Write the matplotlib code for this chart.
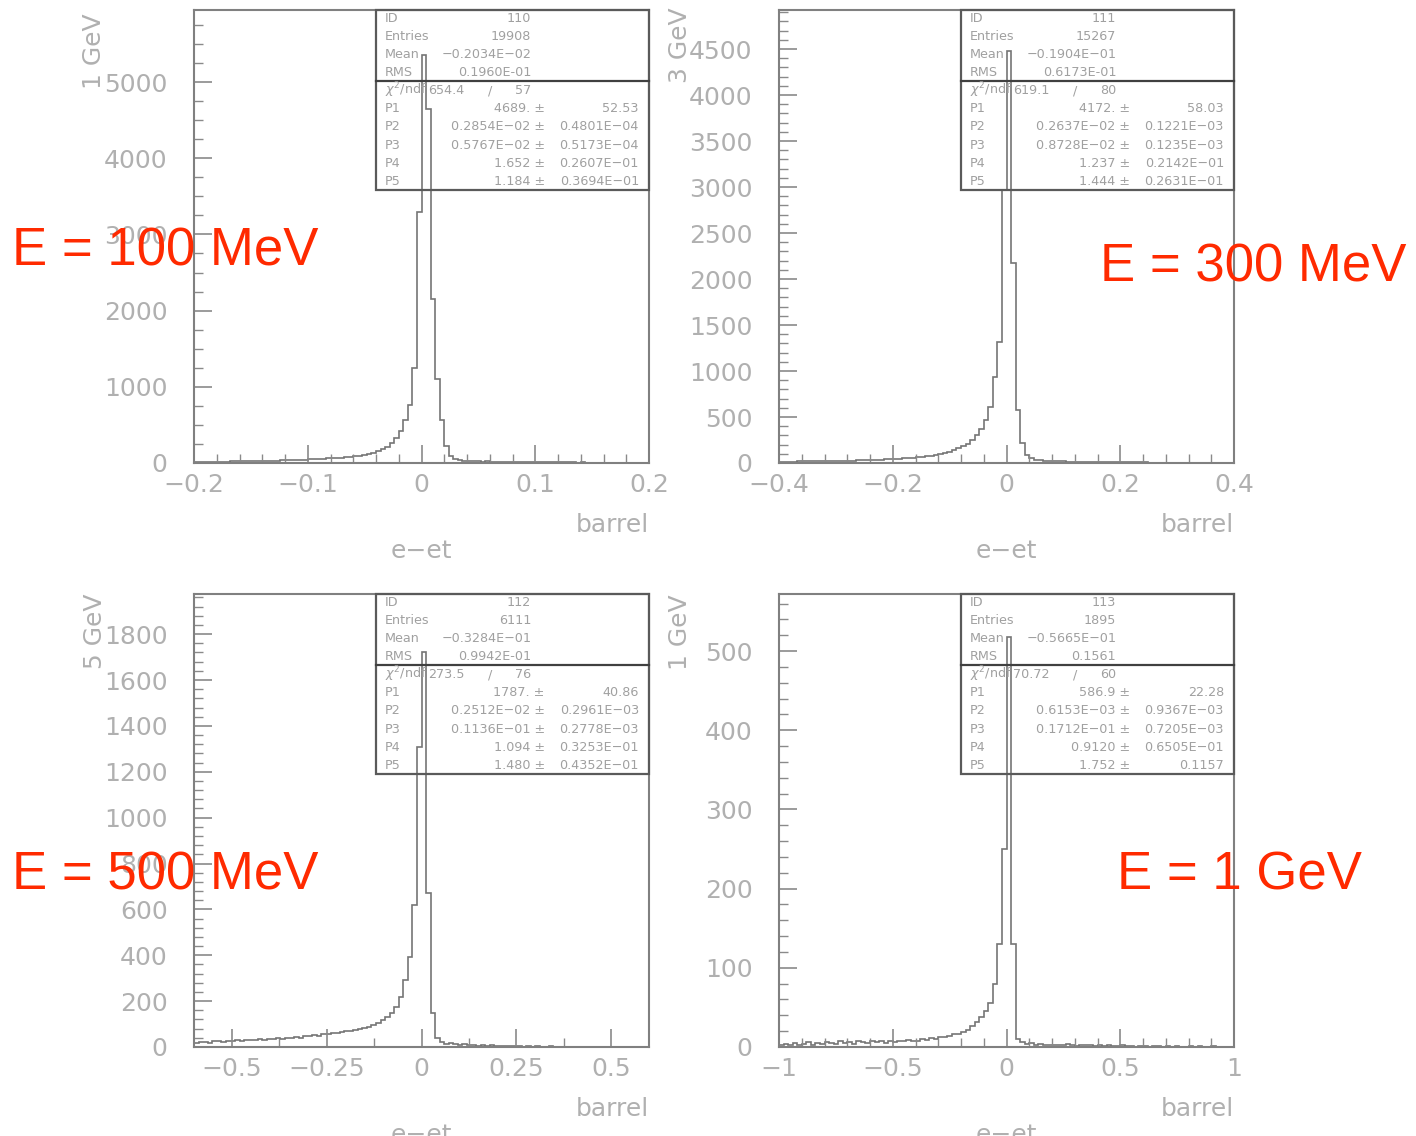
import numpy as np
import matplotlib
matplotlib.use("Agg")
import matplotlib.pyplot as plt
from matplotlib.patches import Rectangle
from matplotlib.ticker import AutoMinorLocator

# bin contents (100 bins per histogram)
h110 = [12, 14, 15, 13, 16, 18, 17, 19, 20, 22, 21, 23, 25, 24, 27, 28, 30, 29, 32, 34, 35, 37, 40, 42, 45,
        48, 50, 53, 56, 60, 63, 67, 72, 77, 83, 90, 98, 108,
        120, 135, 155, 180, 215, 260, 330, 420, 560, 760, 1250, 3300, 5350, 4650, 2150, 1100, 560, 220, 90, 50, 35, 30,
        25, 22, 20, 18, 20, 17, 15, 16, 14, 15, 13, 12, 14, 11, 12, 10, 11, 9, 10, 8,
        9, 8, 7, 8, 6, 7, 6, 5, 6, 5, 4, 5, 4, 4, 3, 4, 3, 3, 2, 3]
h111 = [14, 15, 16, 15, 17, 18, 19, 18, 20, 21, 22, 23, 22, 24, 25, 27, 26, 28, 30, 31, 33, 35, 37, 39, 42,
        45, 48, 51, 55, 58, 62, 67, 72, 78, 85, 95, 108, 124,
        140, 158, 180, 210, 250, 300, 370, 467, 609, 935, 1315, 2970, 4480, 2170, 576, 217, 90, 50, 35, 28, 24, 22,
        20, 18, 17, 16, 15, 14, 13, 13, 12, 11, 10, 10, 9, 9, 8, 8, 7, 7, 6, 6,
        6, 5, 5, 5, 4, 4, 4, 4, 3, 3, 3, 3, 3, 2, 2, 2, 2, 2, 2, 1]
h112 = [18, 20, 22, 19, 24, 26, 23, 28, 25, 30, 27, 32, 29, 31, 34, 30, 35, 33, 38, 36, 40, 38, 43, 41, 46,
        48, 52, 50, 56, 58, 62, 60, 66, 70, 68, 74, 78, 83,
        88, 96, 106, 118, 132, 150, 174, 218, 292, 392, 619, 1307, 1720, 671, 148, 40, 22, 15, 18, 12, 10, 14,
        8, 10, 6, 9, 5, 7, 4, 6, 3, 5, 4, 3, 2, 4, 2, 3, 1, 2, 3, 1,
        2, 1, 2, 1, 1, 2, 1, 0, 1, 1, 0, 1, 0, 1, 0, 0, 1, 0, 0, 0]
h113 = [3, 4, 2, 5, 3, 4, 6, 3, 5, 4, 6, 5, 4, 7, 5, 6, 4, 7, 6, 5, 8, 6, 7, 5, 8,
        6, 8, 7, 9, 7, 8, 10, 9, 11, 10, 12, 13, 14,
        16, 17, 19, 22, 27, 32, 38, 45, 55, 80, 130, 250, 518, 130, 10, 6, 4, 5, 3, 4, 2, 3,
        2, 3, 2, 4, 2, 1, 3, 2, 2, 1, 2, 1, 2, 1, 1, 2, 1, 1, 0, 1,
        1, 0, 1, 1, 0, 1, 0, 1, 0, 0, 1, 0, 1, 0, 0, 1, 0, 0, 0, 0]

x_ranges = [(-0.2, 0.2), (-0.4, 0.4), (-0.6, 0.6), (-1.0, 1.0)]
y_tops = [5945, 4924, 1975, 572]
xticks = [[-0.2, -0.1, 0, 0.1, 0.2], [-0.4, -0.2, 0, 0.2, 0.4],
          [-0.5, -0.25, 0, 0.25, 0.5], [-1, -0.5, 0, 0.5, 1]]
xticklabels = [["\u22120.2", "\u22120.1", "0", "0.1", "0.2"],
               ["\u22120.4", "\u22120.2", "0", "0.2", "0.4"],
               ["\u22120.5", "\u22120.25", "0", "0.25", "0.5"],
               ["\u22121", "\u22120.5", "0", "0.5", "1"]]
ysteps = [1000, 500, 200, 100]
yminor = [4, 5, 5, 5]
xminor = [5, 5, 2, 5]
ylabels = ["1 GeV", "3 GeV", "5 GeV", "1 GeV"]
energies = ["E = 100 MeV", "E = 300 MeV", "E = 500 MeV", "E = 1 GeV"]

# stat box contents
ids = ["110", "111", "112", "113"]
entries = ["19908", "15267", "6111", "1895"]
means = ["-0.2034E-02", "-0.1904E-01", "-0.3284E-01", "-0.5665E-01"]
rmss = ["0.1960E-01", "0.6173E-01", "0.9942E-01", "0.1561"]
chi2 = ["654.4", "619.1", "273.5", "70.72"]
ndf = ["57", "80", "76", "60"]
pars = [
    [("4689.", "52.53"), ("0.2854E-02", "0.4801E-04"), ("0.5767E-02", "0.5173E-04"),
     ("1.652", "0.2607E-01"), ("1.184", "0.3694E-01")],
    [("4172.", "58.03"), ("0.2637E-02", "0.1221E-03"), ("0.8728E-02", "0.1235E-03"),
     ("1.237", "0.2142E-01"), ("1.444", "0.2631E-01")],
    [("1787.", "40.86"), ("0.2512E-02", "0.2961E-03"), ("0.1136E-01", "0.2778E-03"),
     ("1.094", "0.3253E-01"), ("1.480", "0.4352E-01")],
    [("586.9", "22.28"), ("0.6153E-03", "0.9367E-03"), ("0.1712E-01", "0.7205E-03"),
     ("0.9120", "0.6505E-01"), ("1.752", "0.1157")],
]
hists = [h110, h111, h112, h113]

W, H = 1416, 1136
fig = plt.figure(figsize=(W / 100, H / 100), dpi=100)
plt.rcParams['font.family'] = ['DejaVu Sans']

light = '#b0b0b0'
boxtxt = '#a0a0a0'
red = '#ff2a00'

# axes placement in pixels: left, top, width, height
frames = [(194, 10), (779, 10), (194, 594), (779, 594)]
aw, ah = 455, 453


def m(s):
    return s.replace('-', '\u2212')


for i in range(4):
    x0, y0 = frames[i]
    ax = fig.add_axes([x0 / W, 1 - (y0 + ah) / H, aw / W, ah / H])
    lo, hi = x_ranges[i]
    vals = np.array(hists[i], dtype=float)
    edges = np.linspace(lo, hi, len(vals) + 1)
    ax.stairs(vals, edges, color='#757575', lw=1.2)
    ax.set_xlim(lo, hi)
    ax.set_ylim(0, y_tops[i])

    ax.set_xticks(xticks[i])
    ax.set_xticklabels(xticklabels[i])
    ax.set_yticks(np.arange(0, y_tops[i], ysteps[i]))
    ax.xaxis.set_minor_locator(AutoMinorLocator(xminor[i]))
    ax.yaxis.set_minor_locator(AutoMinorLocator(yminor[i]))
    ax.tick_params(which='both', direction='in', top=False, right=False,
                   color='#8a8a8a', labelcolor=light, labelsize=18)
    ax.tick_params(which='major', length=13, width=1.2)
    ax.tick_params(which='minor', length=6.5, width=1.0)
    ax.tick_params(axis='x', pad=7)
    ax.tick_params(axis='y', pad=19)
    for sp in ax.spines.values():
        sp.set_color('#808080')
        sp.set_linewidth(1.5)

    ax.text(1.0, -62 / ah, 'barrel', transform=ax.transAxes, ha='right', va='center',
            fontsize=18, color=light)
    ax.text(0.5, -88 / ah, 'e\u2212et', transform=ax.transAxes, ha='center', va='center',
            fontsize=18, color=light)

    # stat box
    bx, by = 0.4, 1 - 180 / ah
    ax.add_patch(Rectangle((bx, by), 1 - bx, 1 - by, transform=ax.transAxes,
                           fill=False, ec='#5a5a5a', lw=1.6, clip_on=False, zorder=5))
    ax.plot([bx, 1], [1 - 71 / ah, 1 - 71 / ah], transform=ax.transAxes,
            color='#404040', lw=1.6, clip_on=False, zorder=5)

    def row(k):
        return 1 - (8 + 18.15 * k) / ah

    lab_x, val_x, pm_x, err_x = 0.42, 0.741, 0.771, 0.978
    kw = dict(transform=ax.transAxes, fontsize=9.2, color=boxtxt, va='center', zorder=6)
    top_rows = [("ID", ids[i]), ("Entries", entries[i]), ("Mean", m(means[i])), ("RMS", rmss[i])]
    for k, (lab, v) in enumerate(top_rows):
        ax.text(lab_x, row(k), lab, ha='left', **kw)
        ax.text(val_x, row(k), v, ha='right', **kw)
    ax.text(lab_x, row(4), r'$\chi^2$/ndf', ha='left', **kw)
    ax.text(0.515, row(4), chi2[i], ha='left', **kw)
    ax.text(0.65, row(4), '/', ha='center', **kw)
    ax.text(val_x, row(4), ndf[i], ha='right', **kw)
    for k, (v, e) in enumerate(pars[i]):
        ax.text(lab_x, row(5 + k), "P%d" % (k + 1), ha='left', **kw)
        ax.text(pm_x, row(5 + k), m(v) + " \u00b1", ha='right', **kw)
        ax.text(err_x, row(5 + k), m(e), ha='right', **kw)

# y-axis unit labels
ylab_pos = [(94, 51), (680, 45), (95, 631), (680, 632)]
for (px, py), t in zip(ylab_pos, ylabels):
    fig.text(px / W, 1 - py / H, t, rotation=90, ha='center', va='center',
             fontsize=18, color=light)

# energy annotations
e_pos = [(12, 266), (1100, 282), (12, 890), (1117, 890)]
for (px, py), t in zip(e_pos, energies):
    fig.text(px / W, 1 - py / H, t, ha='left', va='baseline', fontsize=38,
             color=red, family=['Liberation Sans', 'DejaVu Sans'])

fig.savefig('out.png', dpi=100)
